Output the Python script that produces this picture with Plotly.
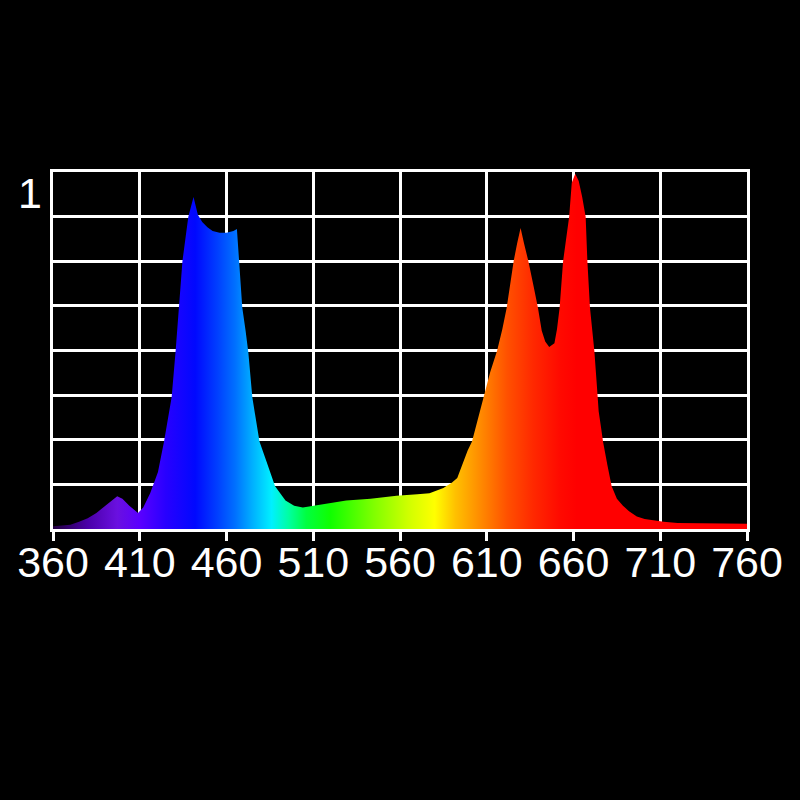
import plotly.graph_objects as go

# Spectrum samples (wavelength in nm, relative intensity)
wavelengths = [360, 365, 370, 375, 380, 385, 390, 394, 397, 400, 404, 409, 412, 416,
               420.5, 424, 426, 428.4, 430.7, 432.6, 434.6, 436.5, 438, 441, 443.5, 446,
               449, 452, 456, 460, 464, 466, 467.4, 469.1, 471, 472.6, 474.9, 477,
               479, 483, 488, 494, 499, 504, 510, 520, 529, 543, 558, 570, 577, 585,
               590, 593, 596, 599, 601.5, 605, 608, 612, 616, 619, 621.5, 623.5, 625.5,
               627.5, 629.5, 631.5, 634, 637, 639.5, 641.7, 643.7, 646, 649, 650.5, 652,
               654, 656, 657.5, 659, 661, 663, 665, 667, 668, 669.5, 672, 673.5, 674.5,
               676, 677, 679.5, 682, 685, 688.5, 692, 696.5, 701, 706, 712, 720, 740, 760]
intensity = [0.008, 0.01, 0.012, 0.02, 0.03, 0.045, 0.065, 0.082, 0.092, 0.085, 0.065,
             0.045, 0.06, 0.10, 0.16, 0.245, 0.30, 0.37, 0.50, 0.62, 0.75, 0.82, 0.875,
             0.93, 0.88, 0.86, 0.845, 0.835, 0.83, 0.83, 0.835, 0.84, 0.75, 0.62,
             0.555, 0.494, 0.368, 0.30, 0.245, 0.19, 0.12, 0.08, 0.065, 0.06, 0.065,
             0.072, 0.08, 0.085, 0.093, 0.097, 0.10, 0.115, 0.13, 0.143, 0.18, 0.22,
             0.245, 0.31, 0.37, 0.44, 0.50, 0.56, 0.62, 0.69, 0.75, 0.80, 0.843, 0.80,
             0.75, 0.68, 0.62, 0.555, 0.525, 0.51, 0.52, 0.56, 0.62, 0.75, 0.82, 0.875,
             0.97, 0.995, 0.975, 0.93, 0.875, 0.75, 0.62, 0.50, 0.40, 0.33, 0.28, 0.245,
             0.18, 0.12, 0.085, 0.065, 0.05, 0.035, 0.028, 0.024, 0.02, 0.017, 0.016,
             0.015]

# Colour of the fill at given wavelengths
color_wl = [360, 380, 397, 410, 425, 442, 455, 465, 475, 486, 496, 506, 520, 545,
            565, 580, 592, 606, 622, 637, 652, 662, 760]
color_hex = ["#220040", "#4a00a8", "#6a10e0", "#5a00ff", "#2800ff", "#0008ff",
             "#0040ff", "#0070ff", "#00b0ff", "#00f0ff", "#00ffa0", "#00ff40",
             "#10ff00", "#80ff00", "#d0ff00", "#ffff00", "#ffc000", "#ff8c00",
             "#ff5000", "#ff2800", "#ff0a00", "#ff0000", "#ff0000"]

x_ticks = [360, 410, 460, 510, 560, 610, 660, 710, 760]

wl_min, wl_max = 360, 760
colorscale = [[(w - wl_min) / (wl_max - wl_min), c] for w, c in zip(color_wl, color_hex)]

fig = go.Figure()
fig.add_trace(go.Scatter(
    x=wavelengths, y=intensity, mode="lines", fill="tozeroy",
    line=dict(width=0, color="rgba(0,0,0,0)"),
    fillgradient=dict(type="horizontal", colorscale=colorscale,
                      start=wl_min, stop=wl_max),
    hoverinfo="skip", showlegend=False,
))

fig.add_annotation(text="1", xref="paper", yref="paper", x=-0.033, y=0.94,
                   xanchor="center", yanchor="middle", showarrow=False,
                   font=dict(family="Liberation Sans", size=43, color="white"))

fig.update_layout(
    width=800, height=800,
    paper_bgcolor="black", plot_bgcolor="black",
    margin=dict(l=53, r=53, t=172, b=271),
    font=dict(family="Liberation Sans", color="white"),
    xaxis=dict(range=[wl_min, wl_max], tickvals=x_ticks,
               ticktext=[str(v) for v in x_ticks],
               showgrid=True, gridcolor="white", gridwidth=3,
               showline=True, mirror=True, linecolor="white", linewidth=3,
               ticks="outside", ticklen=9, tickwidth=3, tickcolor="white",
               ticklabelstandoff=-16,
               tickfont=dict(size=43, color="white"), zeroline=False),
    yaxis=dict(range=[0, 1], dtick=0.125, tick0=0, showticklabels=False,
               showgrid=True, gridcolor="white", gridwidth=3,
               showline=True, mirror=True, linecolor="white", linewidth=3,
               ticks="", zeroline=False),
)

fig.write_html(
    "out.html",
    config={"displayModeBar": False},
    post_script="document.body.style.margin='0';document.body.style.background='black';",
)
